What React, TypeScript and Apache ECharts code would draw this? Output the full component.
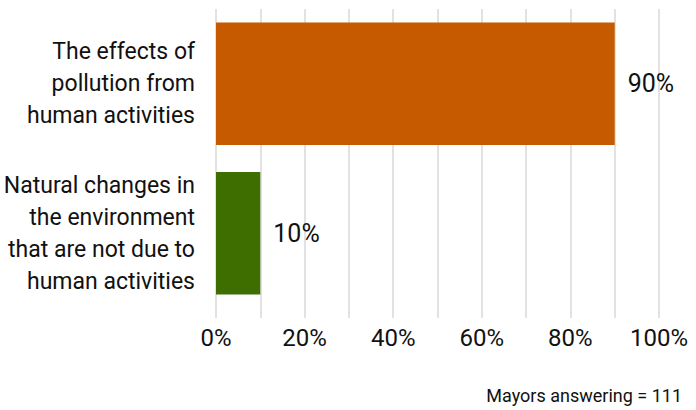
import React, { useEffect, useRef } from "react";
import * as echarts from "echarts";

const categories = [
  "The effects of\npollution from\nhuman activities",
  "Natural changes in\nthe environment\nthat are not due to\nhuman activities",
];
const values = [90, 10];
const barColors = ["#C55A00", "#3F6E00"];
const footnote = "Mayors answering = 111";

const FONT = "Roboto, 'Liberation Sans', Arial, sans-serif";

export default function App() {
  const ref = useRef<HTMLDivElement>(null);
  useEffect(() => {
    if (!ref.current) return;
    const chart = echarts.init(ref.current, null, { renderer: "svg" });
    chart.setOption({
      animation: false,
      textStyle: { fontFamily: FONT },
      grid: { left: 216, right: 37, top: 9, height: 299, outerBoundsMode: "none", containLabel: false },
      xAxis: {
        type: "value",
        min: 0,
        max: 100,
        interval: 10,
        axisLine: { show: false },
        axisTick: { show: true, length: 10, lineStyle: { color: "#d9d9d9", width: 1.5 } },
        splitLine: { show: true, lineStyle: { color: "#d9d9d9", width: 1.5 } },
        axisLabel: {
          formatter: (v: number) => (v % 20 === 0 ? v + "%" : ""),
          color: "#111",
          fontSize: 24,
          fontFamily: FONT,
          margin: 18,
          showMaxLabel: true,
        },
      },
      yAxis: {
        type: "category",
        inverse: true,
        data: categories,
        axisLine: { show: false },
        axisTick: { show: false },
        axisLabel: {
          color: "#111",
          fontSize: 23,
          lineHeight: 32,
          fontFamily: FONT,
          margin: 21,
          align: "right",
        },
      },
      series: [
        {
          type: "bar",
          data: values.map((v, i) => ({ value: v, itemStyle: { color: barColors[i] } })),
          barWidth: "82%",
          label: {
            show: true,
            position: "right",
            distance: 13,
            formatter: "{c}%",
            color: "#111",
            fontSize: 25,
            fontFamily: FONT,
          },
        },
      ],
      graphic: [
        {
          type: "text",
          right: 14,
          top: 386,
          style: { text: footnote, fontSize: 18, fontFamily: FONT, fill: "#111" },
        },
      ],
    });
    return () => chart.dispose();
  }, []);
  return (
    <div
      ref={ref}
      style={{ position: "absolute", left: 0, top: 0, width: 696, height: 410, background: "#fff" }}
    />
  );
}
